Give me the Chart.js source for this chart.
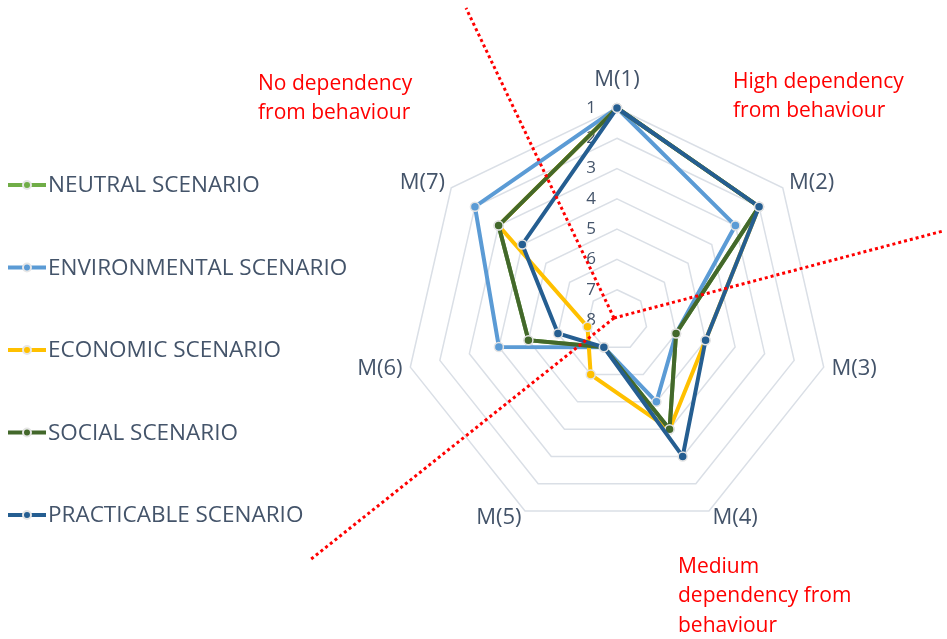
<!DOCTYPE html>
<html>
<head>
<meta charset="utf-8">
<script src="https://cdn.jsdelivr.net/npm/chart.js@4.4.0/dist/chart.umd.min.js"></script>
<style>
  html, body { margin: 0; padding: 0; background: #fff; }
</style>
</head>
<body>
<canvas id="myChart" width="947" height="639"></canvas>
<script>
// Axis categories and the (reversed) rank tick labels.
const categories = ['M(1)', 'M(2)', 'M(3)', 'M(4)', 'M(5)', 'M(6)', 'M(7)'];
const tickLabels = ['1', '2', '3', '4', '5', '6', '7', '8'];

// Rank of each measure in every scenario (1 = best, drawn at the rim).
const neutral       = [1, 2, 6, 4, 7, 5, 3];
const environmental = [1, 3, 6, 5, 7, 4, 2];
const economic      = [1, 2, 5, 4, 6, 7, 3];
const social        = [1, 2, 6, 4, 7, 5, 3];
const practicable   = [1, 2, 5, 3, 7, 6, 4];

const seriesNames = ['NEUTRAL SCENARIO', 'ENVIRONMENTAL SCENARIO', 'ECONOMIC SCENARIO',
                     'SOCIAL SCENARIO', 'PRACTICABLE SCENARIO'];

// Red notes around the chart.
const notes = [
    { lines: ['No dependency', 'from behaviour'], x: 258, y: 84 },
    { lines: ['High dependency', 'from behaviour'], x: 733, y: 82 },
    { lines: ['Medium', 'dependency from', 'behaviour'], x: 678, y: 567 },
];

const FONT = '"Open Sans", "Noto Sans", sans-serif';
const TEXT = '#44546A';

// Radial tick numbers, a bit left of the vertical axis (drawn under the lines).
const tickNumbers = {
    id: 'tickNumbers',
    beforeDatasetsDraw(chart) {
        const scale = chart.scales.r;
        const ctx = chart.ctx;
        ctx.save();
        ctx.font = '17px ' + FONT;
        ctx.fillStyle = TEXT;
        ctx.textAlign = 'center';
        ctx.textBaseline = 'middle';
        scale.ticks.forEach((tick) => {
            const r = scale.getDistanceFromCenterForValue(tick.value);
            ctx.fillText(tick.label, scale.xCenter - 26, scale.yCenter - r);
        });
        ctx.restore();
    }
};

// Category labels placed like the spreadsheet chart: centred vertically on the spoke.
const spokeLabels = {
    id: 'spokeLabels',
    afterDraw(chart) {
        const scale = chart.scales.r;
        const ctx = chart.ctx;
        ctx.save();
        ctx.font = '22px ' + FONT;
        ctx.fillStyle = TEXT;
        ctx.textBaseline = 'middle';
        chart.data.labels.forEach((label, i) => {
            const p = scale.getPointPosition(i, scale.drawingArea + (i === 0 ? 28 : 8));
            const dx = p.x - scale.xCenter;
            ctx.textAlign = dx > 1 ? 'left' : (dx < -1 ? 'right' : 'center');
            ctx.fillText(label, p.x, p.y);
        });
        ctx.restore();
    }
};

// Red dotted separators and red notes.
const dependencyZones = {
    id: 'dependencyZones',
    afterDraw(chart) {
        const scale = chart.scales.r;
        const ctx = chart.ctx;
        const ox = scale.xCenter - 3, oy = scale.yCenter - 2;
        ctx.save();
        ctx.strokeStyle = '#FF0000';
        ctx.lineWidth = 3;
        ctx.setLineDash([3, 3]);
        [[-148, -310], [329, -87], [-304, 242]].forEach(([dx, dy]) => {
            ctx.beginPath();
            ctx.moveTo(ox, oy);
            ctx.lineTo(ox + dx, oy + dy);
            ctx.stroke();
        });
        ctx.setLineDash([]);
        ctx.font = '21px ' + FONT;
        ctx.fillStyle = '#FF0000';
        ctx.textAlign = 'left';
        ctx.textBaseline = 'middle';
        notes.forEach((n) => {
            n.lines.forEach((t, k) => ctx.fillText(t, n.x, n.y + k * 29.5));
        });
        ctx.restore();
    }
};

// Vertical legend on the left with line-and-dot markers.
const sideLegend = {
    id: 'sideLegend',
    afterDraw(chart) {
        const ctx = chart.ctx;
        ctx.save();
        ctx.font = '22.5px ' + FONT;
        ctx.textBaseline = 'middle';
        ctx.textAlign = 'left';
        chart.data.datasets.forEach((ds, i) => {
            const y = 185 + i * 82.5;
            ctx.strokeStyle = ds.borderColor;
            ctx.lineWidth = 4;
            ctx.beginPath();
            ctx.moveTo(8, y);
            ctx.lineTo(46, y);
            ctx.stroke();
            ctx.beginPath();
            ctx.arc(27, y, 4, 0, Math.PI * 2);
            ctx.fillStyle = ds.borderColor;
            ctx.fill();
            ctx.lineWidth = 2;
            ctx.strokeStyle = '#E6E6E6';
            ctx.stroke();
            ctx.fillStyle = TEXT;
            ctx.fillText(ds.label, 48, y + 1);
        });
        ctx.restore();
    }
};

function series(label, data, color, order) {
    return {
        label: label,
        data: data,
        borderColor: color,
        backgroundColor: color,
        borderWidth: 4,
        fill: false,
        order: order,
        pointRadius: 4.5,
        pointBorderWidth: 1.5,
        pointBackgroundColor: color,
        pointBorderColor: '#E4E4E4',
    };
}

document.addEventListener('DOMContentLoaded', () => {
    const ctx = document.getElementById('myChart').getContext('2d');
    Chart.defaults.font.family = FONT;

    new Chart(ctx, {
        type: 'radar',
        data: {
            labels: categories,
            datasets: [
                series(seriesNames[0], neutral, '#70AD47', 4),
                series(seriesNames[1], environmental, '#5B9BD5', 3),
                series(seriesNames[2], economic, '#FFC000', 2),
                series(seriesNames[3], social, '#43682B', 1),
                series(seriesNames[4], practicable, '#255E91', 0),
            ]
        },
        options: {
            responsive: false,
            animation: false,
            layout: { padding: { left: 405, right: 118, top: 108, bottom: 107 } },
            plugins: {
                legend: { display: false },
                tooltip: { enabled: false },
            },
            scales: {
                r: {
                    min: 1,
                    max: 8,
                    reverse: true,
                    ticks: {
                        display: false,
                        stepSize: 1,
                        callback: (value) => tickLabels[value - 1],
                    },
                    grid: { color: '#DADFE6', lineWidth: 1.5 },
                    angleLines: { display: false },
                    pointLabels: { display: false },
                }
            }
        },
        plugins: [tickNumbers, spokeLabels, dependencyZones, sideLegend],
    });
});
</script>
</body>
</html>
